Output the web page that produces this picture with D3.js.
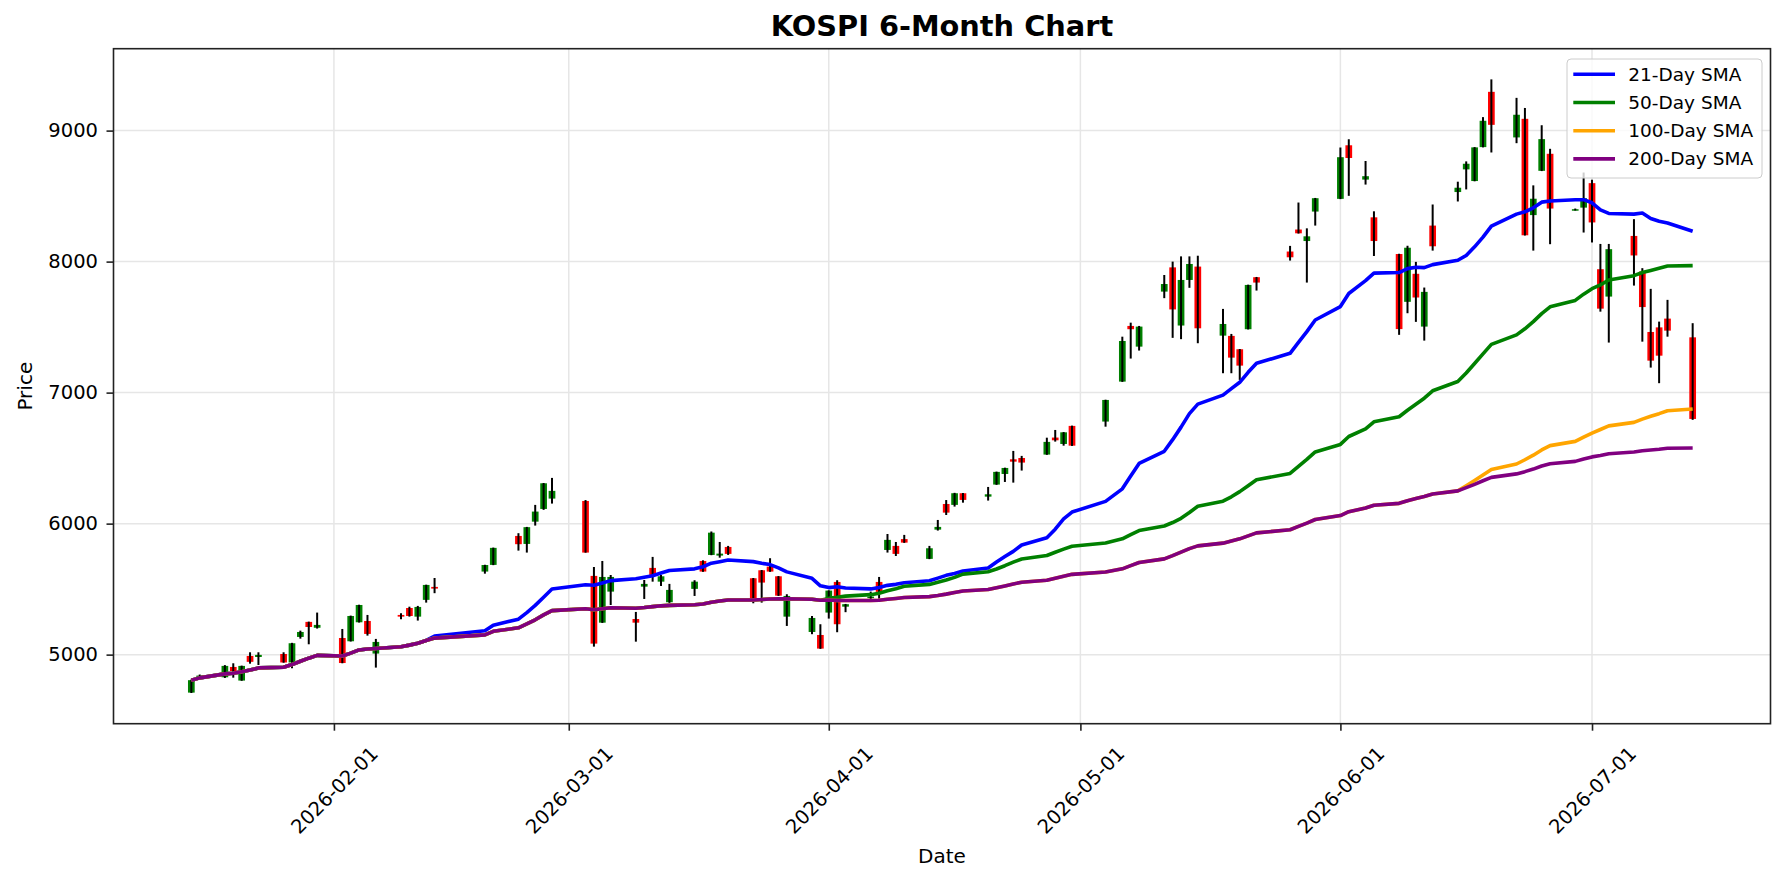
<!DOCTYPE html>
<html>
<head>
<meta charset="utf-8">
<script src="https://cdn.jsdelivr.net/npm/d3@7"></script>
<style>
  body { margin: 0; background: #fff; }
  svg { display: block; font-family: "DejaVu Sans", sans-serif; }
</style>
</head>
<body>
<div id="chart"></div>
<script>
// KOSPI daily candles
var dates = [
  "2026-01-15","2026-01-16","2026-01-19","2026-01-20","2026-01-21","2026-01-22","2026-01-23","2026-01-26","2026-01-27","2026-01-28","2026-01-29","2026-01-30",
  "2026-02-02","2026-02-03","2026-02-04","2026-02-05","2026-02-06","2026-02-09","2026-02-10","2026-02-11","2026-02-12","2026-02-13","2026-02-19","2026-02-20","2026-02-23","2026-02-24","2026-02-25","2026-02-26","2026-02-27",
  "2026-03-03","2026-03-04","2026-03-05","2026-03-06","2026-03-09","2026-03-10","2026-03-11","2026-03-12","2026-03-13","2026-03-16","2026-03-17","2026-03-18","2026-03-19","2026-03-20","2026-03-23","2026-03-24","2026-03-25","2026-03-26","2026-03-27","2026-03-30","2026-03-31",
  "2026-04-01","2026-04-02","2026-04-03","2026-04-06","2026-04-07","2026-04-08","2026-04-09","2026-04-10","2026-04-13","2026-04-14","2026-04-15","2026-04-16","2026-04-17","2026-04-20","2026-04-21","2026-04-22","2026-04-23","2026-04-24","2026-04-27","2026-04-28","2026-04-29","2026-04-30",
  "2026-05-04","2026-05-06","2026-05-07","2026-05-08","2026-05-11","2026-05-12","2026-05-13","2026-05-14","2026-05-15","2026-05-18","2026-05-19","2026-05-20","2026-05-21","2026-05-22","2026-05-26","2026-05-27","2026-05-28","2026-05-29",
  "2026-06-01","2026-06-02","2026-06-04","2026-06-05","2026-06-08","2026-06-09","2026-06-10","2026-06-11","2026-06-12","2026-06-15","2026-06-16","2026-06-17","2026-06-18","2026-06-19","2026-06-22","2026-06-23","2026-06-24","2026-06-25","2026-06-26","2026-06-29","2026-06-30",
  "2026-07-01","2026-07-02","2026-07-03","2026-07-06","2026-07-07","2026-07-08","2026-07-09","2026-07-10","2026-07-13"
];
var opens = [
  4710,4828,4827,4906,4802,4990,4982,5005,4940,5135,5250,5205,
  5127,5102,5247,5257,5008,5303,5356,5290,5418,5517,5634,5685,5906,5845,6015,6112,6191,
  6173,5601,5244,5481,5272,5519,5662,5557,5400,5502,5715,5761,5756,5822,5583,5644,5672,5598,5290,5173,5150,
  5321,5555,5366,5431,5555,5799,5830,5882,5731,5954,6150,6143,6232,6206,6298,6379,6491,6501,6527,6657,6608,6746,
  6779,7084,7509,7351,7771,7956,7512,7860,7962,7435,7433,7331,7484,7881,8077,8245,8157,8382,
  8479,8888,8626,8338,8058,7693,7907,7504,8275,8531,8704,8615,8874,9296,8948,9090,8355,8693,8823,8392,8412,
  8599,7942,7733,8196,7924,7463,7498,7565,7422
];
var highs = [
  4810,4848,4920,4934,4916,5018,5018,5018,5090,5183,5252,5321,
  5196,5298,5381,5303,5120,5316,5366,5372,5534,5585,5686,5817,5927,5975,6143,6310,6349,
  6180,5669,5715,5608,5326,5570,5746,5608,5540,5568,5720,5940,5860,5830,5585,5646,5736,5600,5461,5295,5232,
  5491,5568,5387,5481,5593,5921,5860,5914,5830,6028,6180,6235,6234,6280,6397,6427,6555,6517,6656,6715,6699,6748,
  6946,7427,7534,7509,7898,8000,8040,8040,8045,7639,7448,7333,7824,7883,8120,8451,8254,8486,
  8871,8934,8768,8384,8060,8121,7998,7802,8436,8610,8765,8874,9103,9391,9250,9173,8582,9041,8861,8405,8680,
  8625,8135,8135,8324,7950,7792,7542,7708,7530
];
var lows = [
  4707,4822,4822,4824,4800,4931,4921,4938,4896,5122,5079,5199,
  4934,5100,5245,5145,4901,5270,5290,5260,5397,5469,5618,5683,5794,5779,5985,6105,6153,
  5778,5061,5242,5379,5099,5425,5557,5524,5395,5448,5632,5759,5740,5761,5392,5397,5632,5448,5219,5156,5044,
  5275,5171,5324,5425,5427,5779,5753,5853,5729,5947,6066,6130,6160,6176,6296,6318,6313,6405,6525,6626,6595,6593,
  6740,7082,7260,7321,7721,7418,7408,7800,7377,7148,7148,7097,7482,7779,8008,8214,7840,8275,
  8477,8502,8588,8043,7441,7606,7540,7397,8084,8459,8551,8613,8872,8833,8904,8199,8084,8691,8133,8390,8222,
  8146,7618,7382,7817,7389,7191,7072,7427,6792
];
var closes = [
  4805,4840,4914,4875,4914,4945,4998,4940,5087,5173,5211,5227,
  4936,5295,5379,5158,5097,5290,5295,5364,5532,5504,5684,5815,5843,5973,6092,6308,6250,
  5779,5084,5593,5593,5244,5540,5608,5598,5494,5557,5634,5931,5771,5769,5431,5550,5634,5450,5448,5280,5046,
  5489,5232,5385,5443,5479,5876,5769,5855,5812,5975,6084,6232,6181,6224,6395,6425,6473,6466,6624,6636,6697,6595,
  6944,7394,7484,7504,7829,7635,7860,7982,7491,7524,7267,7206,7822,7840,8033,8216,8193,8484,
  8797,8791,8652,8157,7485,8106,7726,7769,8117,8564,8747,8872,9075,9044,9121,8201,8480,8935,8405,8400,8484,
  8299,7641,8095,8047,7653,7244,7282,7473,6799
];

var smaWindows = [21, 50, 100, 200];
var smaNames = ["21-Day SMA", "50-Day SMA", "100-Day SMA", "200-Day SMA"];
var smaColors = ["blue", "green", "orange", "purple"];
var yTicks = [5000, 6000, 7000, 8000, 9000];
var xTicks = ["2026-02-01", "2026-03-01", "2026-04-01", "2026-05-01", "2026-06-01", "2026-07-01"];

var width = 1785, height = 885;
var plot = {left: 113.5, right: 1770.5, top: 48.7, bottom: 723.7};
var DAY = 864e5;
var parse = d3.utcParse("%Y-%m-%d");

var rows = dates.map(function (d, i) {
  return {date: parse(d), o: opens[i], h: highs[i], l: lows[i], c: closes[i]};
});

// simple moving average, shorter window at the start (min_periods = 1)
function sma(values, n) {
  return values.map(function (v, i) {
    return d3.mean(values.slice(Math.max(0, i - n + 1), i + 1));
  });
}

var svg = d3.select("#chart").append("svg")
    .attr("width", width)
    .attr("height", height);

// x: dates with matplotlib-like 5% margins
var t0 = +rows[0].date - 0.3 * DAY, t1 = +rows[rows.length - 1].date + 0.3 * DAY;
var xm = (t1 - t0) * 0.05;
var x = d3.scaleUtc()
    .domain([new Date(t0 - xm), new Date(t1 + xm)])
    .range([plot.left, plot.right]);

var lo = d3.min(lows), hi = d3.max(highs);
var ym = (hi - lo) * 0.05;
var y = d3.scaleLinear()
    .domain([lo - ym, hi + ym])
    .range([plot.bottom, plot.top]);

var bodyW = x(new Date(+rows[0].date + 0.8 * DAY)) - x(rows[0].date);

// grid
var grid = svg.append("g").attr("stroke", "#e6e6e6").attr("stroke-width", 1.5);
grid.selectAll("line.gy").data(yTicks).enter().append("line")
    .attr("x1", plot.left).attr("x2", plot.right)
    .attr("y1", function (d) { return y(d); })
    .attr("y2", function (d) { return y(d); });
grid.selectAll("line.gx").data(xTicks).enter().append("line")
    .attr("y1", plot.top).attr("y2", plot.bottom)
    .attr("x1", function (d) { return x(parse(d)); })
    .attr("x2", function (d) { return x(parse(d)); });

// candles
var candles = svg.append("g");
candles.selectAll("rect").data(rows).enter().append("rect")
    .attr("x", function (d) { return x(d.date) - bodyW / 2; })
    .attr("width", bodyW)
    .attr("y", function (d) { return y(Math.max(d.o, d.c)); })
    .attr("height", function (d) { return Math.max(1.5, Math.abs(y(d.o) - y(d.c))); })
    .attr("fill", function (d) { return d.c >= d.o ? "green" : "red"; });
candles.selectAll("line").data(rows).enter().append("line")
    .attr("x1", function (d) { return x(d.date); })
    .attr("x2", function (d) { return x(d.date); })
    .attr("y1", function (d) { return y(d.h); })
    .attr("y2", function (d) { return y(d.l); })
    .attr("stroke", "black")
    .attr("stroke-width", 2);

// moving averages
var line = d3.line()
    .x(function (d) { return x(d[0]); })
    .y(function (d) { return y(d[1]); });

smaWindows.forEach(function (n, k) {
  var vals = sma(closes, n);
  svg.append("path")
      .datum(rows.map(function (r, i) { return [r.date, vals[i]]; }))
      .attr("d", line)
      .attr("fill", "none")
      .attr("stroke", smaColors[k])
      .attr("stroke-width", 3.6)
      .attr("stroke-linejoin", "round");
});

// axes
var yAxis = d3.axisLeft(y).tickValues(yTicks).tickSize(7).tickPadding(8.5)
    .tickFormat(d3.format("d"));
var xAxis = d3.axisBottom(x).tickValues(xTicks.map(parse)).tickSize(7)
    .tickFormat(d3.utcFormat("%Y-%m-%d"));

var ya = svg.append("g")
    .attr("transform", "translate(" + plot.left + ",0)")
    .call(yAxis);
var xa = svg.append("g")
    .attr("transform", "translate(0," + plot.bottom + ")")
    .call(xAxis);

[ya, xa].forEach(function (g) {
  g.select(".domain").remove();
  g.selectAll(".tick line").attr("stroke", "#222").attr("stroke-width", 1.6);
  g.selectAll(".tick text").attr("fill", "#000").attr("font-size", "19.5px")
      .attr("font-family", "DejaVu Sans");
});
xa.selectAll(".tick text")
    .attr("y", 0).attr("dy", "0.35em")
    .attr("text-anchor", "middle")
    .attr("transform", "translate(0,66.5) rotate(-45)");

svg.append("rect")
    .attr("x", plot.left).attr("y", plot.top)
    .attr("width", plot.right - plot.left).attr("height", plot.bottom - plot.top)
    .attr("fill", "none").attr("stroke", "#222").attr("stroke-width", 1.6);

// titles
svg.append("text")
    .attr("x", (plot.left + plot.right) / 2).attr("y", 36)
    .attr("text-anchor", "middle")
    .attr("font-size", "28.8px").attr("font-weight", "bold")
    .text("KOSPI 6-Month Chart");
svg.append("text")
    .attr("x", (plot.left + plot.right) / 2).attr("y", 863)
    .attr("text-anchor", "middle").attr("font-size", "20px")
    .text("Date");
svg.append("text")
    .attr("transform", "translate(32," + (plot.top + plot.bottom) / 2 + ") rotate(-90)")
    .attr("text-anchor", "middle").attr("font-size", "20px")
    .text("Price");

// legend
var lg = svg.append("g").attr("transform", "translate(1567,59)");
lg.append("rect")
    .attr("width", 195).attr("height", 119).attr("rx", 4)
    .attr("fill", "white").attr("fill-opacity", 0.8)
    .attr("stroke", "#cccccc");
smaNames.forEach(function (name, k) {
  var ry = 15.3 + k * 28.2;
  lg.append("line")
      .attr("x1", 6.3).attr("x2", 48).attr("y1", ry).attr("y2", ry)
      .attr("stroke", smaColors[k]).attr("stroke-width", 3.6);
  lg.append("text")
      .attr("x", 61.3).attr("y", ry).attr("dy", "0.35em")
      .attr("font-size", "18.5px")
      .text(name);
});
</script>
</body>
</html>
